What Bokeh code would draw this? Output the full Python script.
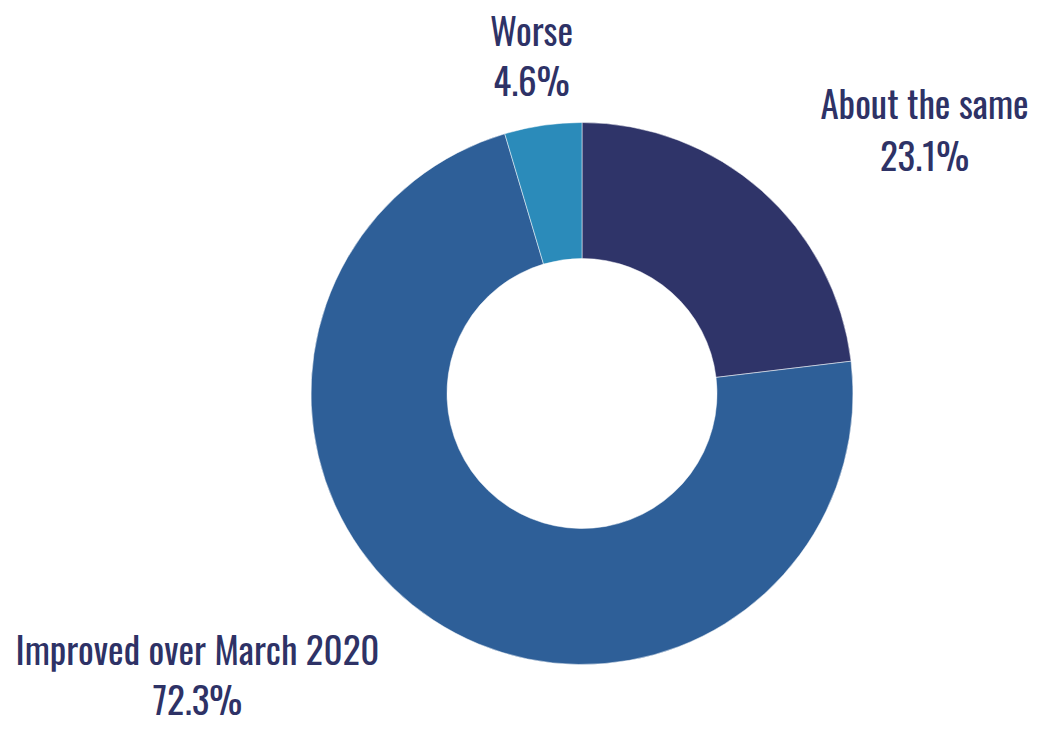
import numpy as np
from bokeh.plotting import figure
from bokeh.models import ColumnDataSource, Range1d
from bokeh.core.properties import value
from bokeh.embed import file_html
from bokeh.resources import INLINE

categories = ["About the same", "Improved over March 2020", "Worse"]
values = [23.1, 72.3, 4.6]
colors = ["#2f3469", "#2e5f98", "#2b8bba"]
pct_labels = ["23.1%", "72.3%", "4.6%"]

W, H = 1033, 730
FONT = "'Oswald Light', Oswald, 'Roboto Condensed', sans-serif"
TEXT_COLOR = "#2e3266"
FONT_SIZE = "37px"

# layout in reference pixel coords, shifted by an offset
DX, DY = -9, -11
BASE_ADJ = -18  # correction for the renderer's baseline placement
cx, cy = 590.5 + DX, 404 + DY
r_out, r_in = 271, 135
# x centre, baseline of name, baseline of percentage
label_pos = [(933, 131, 183), (206, 677, 727), (540, 58, 108)]

vals = np.array(values)
frac = vals / vals.sum()
cum = np.concatenate([[0], np.cumsum(frac)])
start = np.pi / 2 - cum[:-1] * 2 * np.pi
end = np.pi / 2 - cum[1:] * 2 * np.pi

src = ColumnDataSource(dict(cat=categories, start=start, end=end, color=colors))

p = figure(width=W, height=H, output_backend="svg", toolbar_location=None,
           x_range=Range1d(0, W), y_range=Range1d(0, H), min_border=0)
p.axis.visible = False
p.grid.visible = False
p.outline_line_color = None
p.background_fill_color = "white"

p.annular_wedge(x=cx, y=H - cy, inner_radius=r_in, outer_radius=r_out,
                inner_radius_units="screen", outer_radius_units="screen",
                start_angle="start", end_angle="end", direction="clock",
                fill_color="color", line_color="white", line_width=0.5, source=src)

lx = [lp[0] + DX for lp in label_pos]
ly1 = [H - (lp[1] + DY + BASE_ADJ) for lp in label_pos]
ly2 = [H - (lp[2] + DY + BASE_ADJ) for lp in label_pos]
p.text(x=lx, y=ly1, text=categories, text_align="center", text_baseline="alphabetic",
       text_font=value(FONT), text_font_size=FONT_SIZE, text_color=TEXT_COLOR)
p.text(x=lx, y=ly2, text=pct_labels, text_align="center", text_baseline="alphabetic",
       text_font=value(FONT), text_font_size=FONT_SIZE, text_color=TEXT_COLOR)

open("out.html", "w").write(file_html(p, INLINE))
